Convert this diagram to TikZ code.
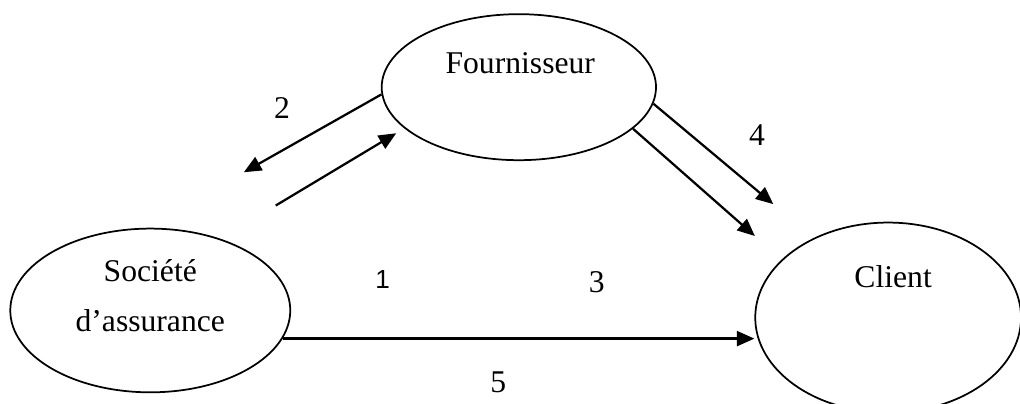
\documentclass[tikz,border=0pt]{standalone}
\usepackage{fontspec}
\setmainfont{Liberation Serif}
\newfontfamily\arialfont{Liberation Sans}
\usetikzlibrary{arrows.meta,shapes.geometric}

\tikzset{
	acteur/.style={draw,ellipse,line width=0.7pt,inner sep=0pt},
	flux/.style={line width=0.9pt,-{Triangle[length=7pt,width=6pt]}}
}

\begin{document}
\begin{tikzpicture}[font=\fontsize{12.7}{20}\selectfont]
		\useasboundingbox (0,0) rectangle (14.39,5.69);
		% acteurs
		\node[acteur,minimum width=3.87cm,minimum height=2.06cm] (four) at (7.32,4.46) {};
		\node[acteur,minimum width=3.95cm,minimum height=2.31cm] (soc) at (2.12,1.31) {};
		\node[acteur,minimum width=3.75cm,minimum height=2.68cm] (cli) at (12.53,1.21) {};
		\node (fourtxt) at (7.34,4.80) {Fournisseur};
		\node[align=center] (soctxt) at (2.12,1.52) {Société\\d’assurance};
		\node (clitxt) at (12.60,1.78) {Client};
		% extremites libres
		\coordinate (s2) at (3.44,3.26);
		\coordinate (q1) at (3.89,2.79);
		\coordinate (q2) at (5.59,3.81);
		\coordinate (c4) at (10.91,2.81);
		\coordinate (c3) at (10.65,2.36);
		% flux
		\draw[flux] (four.183) -- (s2);
		\draw[flux] (q1) -- (q2);
		\draw[flux] (four.-7) -- (c4);
		\draw[flux] (four.-20) -- (c3);
		\draw[flux] (soc.-12) -- (soc.-12 -| cli.west);
		% numeros
		\node (n2) at (3.98,4.16) {2};
		\node (n4) at (10.68,3.78) {4};
		\node[font=\arialfont\fontsize{10.5}{12}\selectfont] (n1) at (5.40,1.74) {1};
		\node (n3) at (8.42,1.71) {3};
		\node (n5) at (7.03,0.30) {5};
\end{tikzpicture}
\end{document}
